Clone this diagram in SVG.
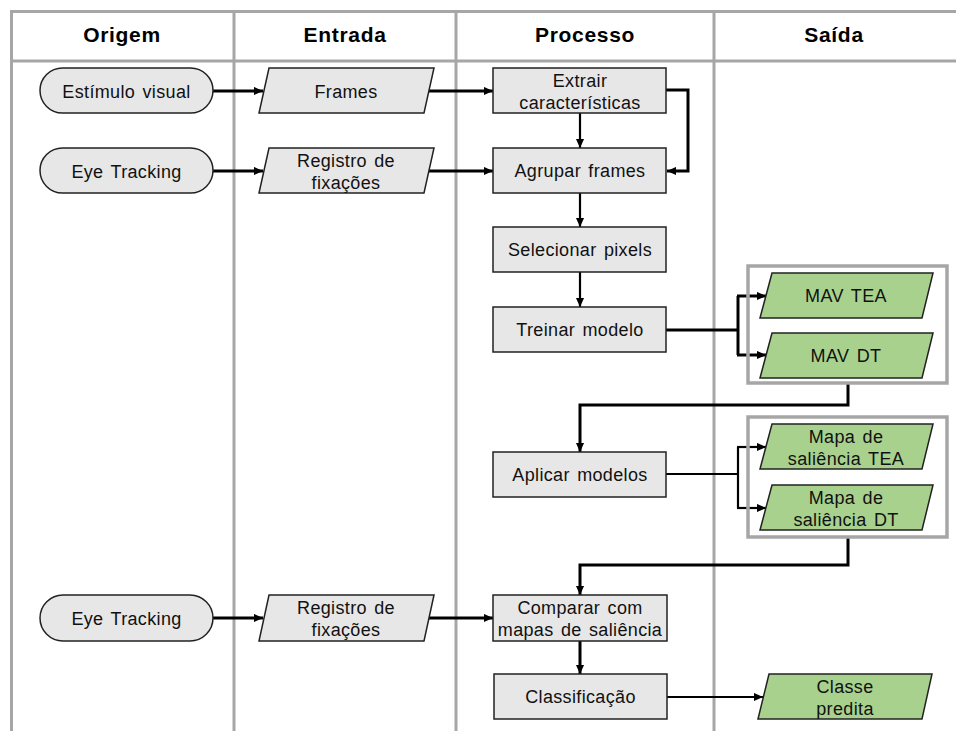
<svg xmlns="http://www.w3.org/2000/svg" width="956" height="731" viewBox="0 0 956 731">
<defs>
<marker id="ah" viewBox="0 0 10 10" refX="10" refY="5" markerWidth="9" markerHeight="9" markerUnits="userSpaceOnUse" orient="auto">
<path d="M0,0.5 L10,5 L0,9.5 z" fill="#000"/>
</marker>
</defs>
<style>
.grid{stroke:#a6a6a6;stroke-width:3;fill:none}
.hdr{font-family:"Liberation Sans",Arial,sans-serif;font-weight:bold;font-size:21px;letter-spacing:0.7px;text-anchor:middle;fill:#000}
.t{font-family:"Liberation Sans",Arial,sans-serif;font-size:18px;letter-spacing:0.35px;word-spacing:2px;text-anchor:middle;fill:#111}
.gray{fill:#e7e7e7;stroke:#222;stroke-width:1.5}
.green{fill:#a9d18e;stroke:#222;stroke-width:1.5}
.grp{fill:none;stroke:#a6a6a6;stroke-width:3.5}
.c{fill:none;stroke:#000;stroke-width:3}
.c2{fill:none;stroke:#000;stroke-width:2.2}
</style>
<rect width="956" height="731" fill="#fff"/>
<g id="table">
<line class="grid" x1="10" y1="11.5" x2="956" y2="11.5"/>
<line class="grid" x1="10" y1="61" x2="956" y2="61"/>
<line class="grid" x1="11.5" y1="10" x2="11.5" y2="731"/>
<line class="grid" x1="234" y1="10" x2="234" y2="731"/>
<line class="grid" x1="456" y1="10" x2="456" y2="731"/>
<line class="grid" x1="714" y1="10" x2="714" y2="731"/>
<text class="hdr" x="122" y="42">Origem</text>
<text class="hdr" x="345" y="42">Entrada</text>
<text class="hdr" x="585" y="42">Processo</text>
<text class="hdr" x="834" y="42">Saída</text>
</g>
<g id="connectors">
<line class="c" x1="213" y1="91" x2="263" y2="91" marker-end="url(#ah)"/>
<line class="c" x1="428" y1="91" x2="493" y2="91" marker-end="url(#ah)"/>
<line class="c" x1="213" y1="171" x2="263" y2="171" marker-end="url(#ah)"/>
<line class="c" x1="428" y1="171" x2="493" y2="171" marker-end="url(#ah)"/>
<line class="c2" x1="580" y1="113" x2="580" y2="148" marker-end="url(#ah)"/>
<path class="c" d="M666,90 H688 V171 H667" marker-end="url(#ah)"/>
<line class="c2" x1="580" y1="193" x2="580" y2="227" marker-end="url(#ah)"/>
<line class="c2" x1="580" y1="272" x2="580" y2="307" marker-end="url(#ah)"/>
<path class="c" d="M666,330 H738"/>
<path class="c" d="M738,296 V355"/>
<line class="c" x1="737" y1="296" x2="766" y2="296" marker-end="url(#ah)"/>
<line class="c" x1="737" y1="355" x2="766" y2="355" marker-end="url(#ah)"/>
<path class="c" d="M848,383 V405 H580 V452" marker-end="url(#ah)"/>
<path class="c2" d="M666,474 H738"/>
<path class="c2" d="M738,447 V508"/>
<line class="c2" x1="737" y1="447" x2="766" y2="447" marker-end="url(#ah)"/>
<line class="c2" x1="737" y1="508" x2="766" y2="508" marker-end="url(#ah)"/>
<path class="c" d="M848,537 V565 H580 V595" marker-end="url(#ah)"/>
<line class="c" x1="213" y1="618" x2="263" y2="618" marker-end="url(#ah)"/>
<line class="c" x1="428" y1="618" x2="493" y2="618" marker-end="url(#ah)"/>
<line class="c" x1="580" y1="641" x2="580" y2="674" marker-end="url(#ah)"/>
<line class="c2" x1="667" y1="697" x2="763" y2="697" marker-end="url(#ah)"/>
</g>
<g id="origem-estimulo">
<rect class="gray" x="40" y="68" width="173" height="45" rx="22.5"/>
<text class="t" x="126.5" y="97.5">Estímulo visual</text>
</g>
<g id="origem-eyetracking-1">
<rect class="gray" x="40" y="148" width="173" height="45" rx="22.5"/>
<text class="t" x="126.5" y="177.5">Eye Tracking</text>
</g>
<g id="origem-eyetracking-2">
<rect class="gray" x="40" y="595" width="173" height="46" rx="23"/>
<text class="t" x="126.5" y="624.5">Eye Tracking</text>
</g>
<g id="entrada-frames">
<polygon class="gray" points="269,68 434,68 424,113 259,113"/>
<text class="t" x="346" y="97.5">Frames</text>
</g>
<g id="entrada-registro-1">
<polygon class="gray" points="269,148 434,148 424,193 259,193"/>
<text class="t" x="346" y="167">Registro de</text>
<text class="t" x="346" y="189">fixações</text>
</g>
<g id="entrada-registro-2">
<polygon class="gray" points="269,595 434,595 424,641 259,641"/>
<text class="t" x="346" y="614">Registro de</text>
<text class="t" x="346" y="636">fixações</text>
</g>
<g id="proc-extrair">
<rect class="gray" x="493" y="68" width="173" height="45"/>
<text class="t" x="580" y="87">Extrair</text>
<text class="t" x="580" y="109">características</text>
</g>
<g id="proc-agrupar">
<rect class="gray" x="493" y="148" width="173" height="45"/>
<text class="t" x="580" y="177">Agrupar frames</text>
</g>
<g id="proc-selecionar">
<rect class="gray" x="493" y="227" width="173" height="45"/>
<text class="t" x="580" y="256">Selecionar pixels</text>
</g>
<g id="proc-treinar">
<rect class="gray" x="493" y="307" width="173" height="45"/>
<text class="t" x="580" y="336">Treinar modelo</text>
</g>
<g id="proc-aplicar">
<rect class="gray" x="493" y="452" width="173" height="45"/>
<text class="t" x="580" y="481">Aplicar modelos</text>
</g>
<g id="proc-comparar">
<rect class="gray" x="493" y="595" width="174" height="46"/>
<text class="t" x="580" y="614">Comparar com</text>
<text class="t" x="580" y="636">mapas de saliência</text>
</g>
<g id="proc-classificacao">
<rect class="gray" x="494" y="674" width="173" height="45"/>
<text class="t" x="580.5" y="703">Classificação</text>
</g>
<g id="grupo-mav">
<rect class="grp" x="748" y="266" width="199" height="117"/>
</g>
<g id="saida-mav-tea">
<polygon class="green" points="772,273 933,273 922,318 760,318"/>
<text class="t" x="846" y="302">MAV TEA</text>
</g>
<g id="saida-mav-dt">
<polygon class="green" points="772,333 933,333 922,378 760,378"/>
<text class="t" x="846" y="362">MAV DT</text>
</g>
<g id="grupo-mapas">
<rect class="grp" x="748" y="417" width="199" height="120"/>
</g>
<g id="saida-mapa-tea">
<polygon class="green" points="772,424 933,424 922,469 760,469"/>
<text class="t" x="846" y="443">Mapa de</text>
<text class="t" x="846" y="465">saliência TEA</text>
</g>
<g id="saida-mapa-dt">
<polygon class="green" points="772,485 933,485 922,530 760,530"/>
<text class="t" x="846" y="504">Mapa de</text>
<text class="t" x="846" y="526">saliência DT</text>
</g>
<g id="saida-classe">
<polygon class="green" points="769,674 932,674 922,719 758,719"/>
<text class="t" x="845" y="693">Classe</text>
<text class="t" x="845" y="715">predita</text>
</g>
</svg>
